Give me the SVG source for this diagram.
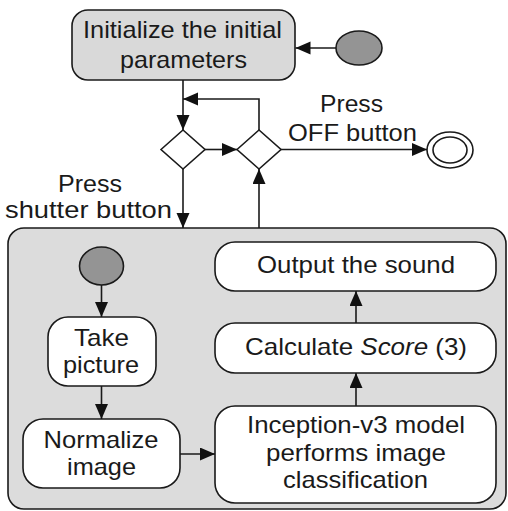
<svg xmlns="http://www.w3.org/2000/svg" width="508" height="511" viewBox="0 0 508 511">
  <defs>
    <marker id="arrow" markerUnits="userSpaceOnUse" markerWidth="16" markerHeight="14" refX="15" refY="6.5" orient="auto">
      <path d="M0,0 L15,6.5 L0,13 Z" fill="#111"/>
    </marker>
    <style>
      text { font-family: "Liberation Sans", Arial, sans-serif; font-size: 24px; fill: #1a1a1a; text-anchor: middle; }
      .act { fill: #ffffff; stroke: #1a1a1a; stroke-width: 1.6; }
      .act-grey { fill: #d9d9d9; stroke: #1a1a1a; stroke-width: 1.6; }
      .start { fill: #949494; stroke: #1a1a1a; stroke-width: 1.6; }
      .decision { fill: #ffffff; stroke: #1a1a1a; stroke-width: 1.6; }
      .edge { fill: none; stroke: #1a1a1a; stroke-width: 1.6; }
      .edge.arr { marker-end: url(#arrow); }
    </style>
  </defs>

  <rect width="508" height="511" fill="#ffffff"/>

  <!-- capture sub-activity container -->
  <g id="capture-region">
    <rect x="8" y="228" width="498" height="281" rx="16" fill="#dcdcdc" stroke="#1a1a1a" stroke-width="1.6"/>
  </g>

  <g id="init">
    <rect class="act-grey" x="72" y="10" width="223" height="70" rx="16"/>
    <text x="182.5" y="38" textLength="199" lengthAdjust="spacingAndGlyphs">Initialize the initial</text>
    <text x="183.5" y="68" textLength="127" lengthAdjust="spacingAndGlyphs">parameters</text>
  </g>

  <g id="start-top">
    <ellipse class="start" cx="359" cy="48" rx="23" ry="17"/>
  </g>

  <g id="merge">
    <path class="decision" d="M161,149.5 L183,130 L205,149.5 L183,169 Z"/>
  </g>

  <g id="decide">
    <path class="decision" d="M237,149.5 L259,130 L281,149.5 L259,169 Z"/>
  </g>

  <g id="final">
    <ellipse cx="450" cy="150" rx="23" ry="18" fill="#ffffff" stroke="#1a1a1a" stroke-width="1.6"/>
    <ellipse cx="450" cy="150" rx="17" ry="13" fill="#ffffff" stroke="#1a1a1a" stroke-width="1.6"/>
  </g>

  <g id="label-off">
    <text x="351.5" y="112" textLength="63" lengthAdjust="spacingAndGlyphs">Press</text>
    <text x="352.5" y="141" textLength="129" lengthAdjust="spacingAndGlyphs">OFF button</text>
  </g>

  <g id="label-shutter">
    <text x="90" y="192" textLength="64" lengthAdjust="spacingAndGlyphs">Press</text>
    <text x="88.5" y="218" textLength="167" lengthAdjust="spacingAndGlyphs">shutter button</text>
  </g>

  <g id="start-inner">
    <ellipse class="start" cx="101.5" cy="266" rx="22" ry="19"/>
  </g>

  <g id="take-picture">
    <rect class="act" x="48" y="317" width="108" height="69" rx="20"/>
    <text x="101.5" y="345.5" textLength="55" lengthAdjust="spacingAndGlyphs">Take</text>
    <text x="101" y="372.5" textLength="76" lengthAdjust="spacingAndGlyphs">picture</text>
  </g>

  <g id="normalize">
    <rect class="act" x="23" y="419" width="157" height="69" rx="20"/>
    <text x="101" y="448" textLength="115" lengthAdjust="spacingAndGlyphs">Normalize</text>
    <text x="101.5" y="475" textLength="69" lengthAdjust="spacingAndGlyphs">image</text>
  </g>

  <g id="inception">
    <rect class="act" x="215" y="406" width="281" height="97" rx="20"/>
    <text x="356" y="433" textLength="218" lengthAdjust="spacingAndGlyphs">Inception-v3 model</text>
    <text x="356" y="461" textLength="180" lengthAdjust="spacingAndGlyphs">performs image</text>
    <text x="355.5" y="488" textLength="145" lengthAdjust="spacingAndGlyphs">classification</text>
  </g>

  <g id="score">
    <rect class="act" x="215" y="323" width="281" height="50" rx="20"/>
    <text x="356" y="355" textLength="222" lengthAdjust="spacingAndGlyphs">Calculate <tspan font-style="italic">Score</tspan> (3)</text>
  </g>

  <g id="output">
    <rect class="act" x="215" y="242" width="281" height="49" rx="20"/>
    <text x="356" y="273" textLength="198" lengthAdjust="spacingAndGlyphs">Output the sound</text>
  </g>

  <g id="connectors">
    <path class="edge arr" d="M336,48 L295.5,48"/>
    <path class="edge arr" d="M183,80 L183,130"/>
    <path class="edge arr" d="M259,130 L259,99 L183,99"/>
    <path class="edge arr" d="M205,149.5 L237,149.5"/>
    <path class="edge arr" d="M281,149.5 L427,149.5"/>
    <path class="edge arr" d="M183,169 L183,228"/>
    <path class="edge arr" d="M259,228 L259,169"/>
    <path class="edge arr" d="M101.5,285 L101.5,317"/>
    <path class="edge arr" d="M101.5,386 L101.5,419"/>
    <path class="edge arr" d="M180,454 L215,454"/>
    <path class="edge arr" d="M356,406 L356,373"/>
    <path class="edge arr" d="M356,323 L356,291"/>
  </g>
</svg>
